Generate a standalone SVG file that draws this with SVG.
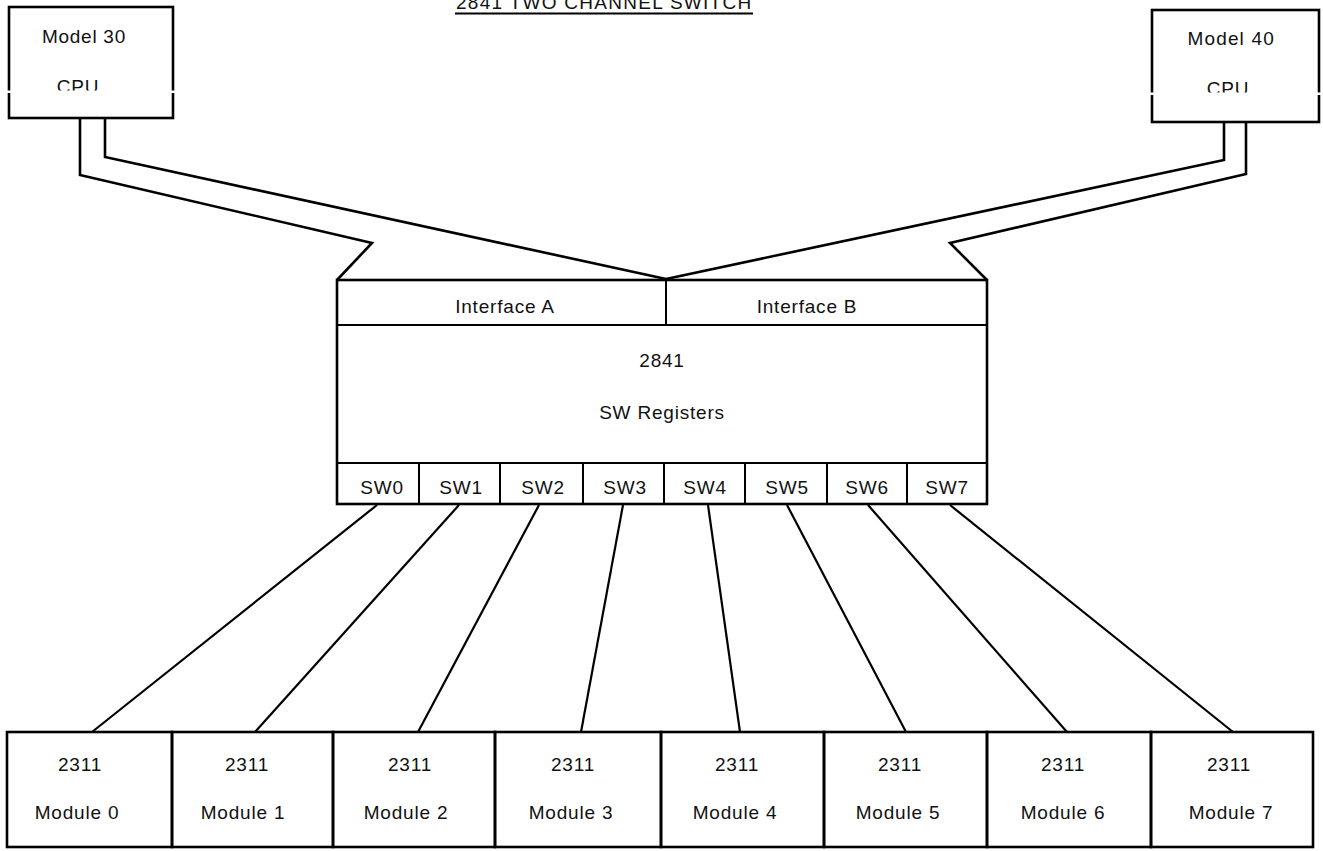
<svg xmlns="http://www.w3.org/2000/svg" width="1323" height="851" viewBox="0 0 1323 851">
<style>
.box{fill:none;stroke:#000;stroke-width:2.6;stroke-linejoin:miter}
.div{stroke:#000;stroke-width:2}
.wire{fill:none;stroke:#000;stroke-width:2.6;stroke-linejoin:miter}
.line{stroke:#000;stroke-width:2.2}
text{font-family:"Liberation Sans",Arial,sans-serif;font-size:19px;fill:#111;text-anchor:middle;letter-spacing:0.8px}
.title{font-size:19px}
</style>
<rect width="1323" height="851" fill="#fff"/>
<g id="title">
<text class="title" x="604" y="9" textLength="296" lengthAdjust="spacing">2841 TWO CHANNEL SWITCH</text>
<line x1="455" y1="13.5" x2="753" y2="13.5" stroke="#000" stroke-width="1.8"/>
</g>
<g id="connectors">
<polyline class="wire" points="80,118 80,175 372,243 337,280"/>
<polyline class="wire" points="105,118 105,157 666,279"/>
<polyline class="wire" points="1224,122 1224,160 666,279"/>
<polyline class="wire" points="1246,122 1246,174 950,243 987,280"/>
<line class="line" x1="377" y1="505" x2="92" y2="732"/>
<line class="line" x1="459" y1="505" x2="255" y2="732"/>
<line class="line" x1="539" y1="505" x2="418" y2="732"/>
<line class="line" x1="623" y1="505" x2="581" y2="732"/>
<line class="line" x1="708" y1="505" x2="740" y2="732"/>
<line class="line" x1="787" y1="505" x2="906" y2="732"/>
<line class="line" x1="868" y1="505" x2="1067" y2="732"/>
<line class="line" x1="950" y1="505" x2="1233" y2="732"/>
</g>
<g id="cpu30">
<rect class="box" x="9" y="7" width="164" height="111" fill="#fff"/>
<text x="84" y="43" textLength="84" lengthAdjust="spacing">Model 30</text>
<text x="78" y="93">CPU</text>
<rect x="0" y="90.5" width="180" height="2.5" fill="#fff"/>
</g>
<g id="cpu40">
<rect class="box" x="1152" y="10" width="167" height="112" fill="#fff"/>
<text x="1231" y="45" textLength="87" lengthAdjust="spacing">Model 40</text>
<text x="1228" y="95">CPU</text>
<rect x="1145" y="92.5" width="178" height="2.5" fill="#fff"/>
</g>
<g id="sw2841">
<rect class="box" x="337" y="280" width="650" height="224"/>
<line class="div" x1="337" y1="325" x2="987" y2="325"/>
<line class="div" x1="666" y1="280" x2="666" y2="325"/>
<line class="div" x1="337" y1="463" x2="987" y2="463"/>
<line class="div" x1="419" y1="463" x2="419" y2="504"/>
<line class="div" x1="500" y1="463" x2="500" y2="504"/>
<line class="div" x1="583" y1="463" x2="583" y2="504"/>
<line class="div" x1="664" y1="463" x2="664" y2="504"/>
<line class="div" x1="745" y1="463" x2="745" y2="504"/>
<line class="div" x1="827" y1="463" x2="827" y2="504"/>
<line class="div" x1="907" y1="463" x2="907" y2="504"/>
<text x="505" y="313">Interface A</text>
<text x="807" y="313">Interface B</text>
<text x="662" y="367">2841</text>
<text x="662" y="419">SW Registers</text>
<text x="382" y="494">SW0</text>
<text x="461" y="494">SW1</text>
<text x="543" y="494">SW2</text>
<text x="625" y="494">SW3</text>
<text x="705" y="494">SW4</text>
<text x="787" y="494">SW5</text>
<text x="867" y="494">SW6</text>
<text x="947" y="494">SW7</text>
</g>
<g id="module0">
<rect class="box" x="7" y="732" width="165" height="115"/>
<text x="80" y="771">2311</text>
<text x="77" y="819">Module 0</text>
</g>
<g id="module1">
<rect class="box" x="172" y="732" width="161" height="115"/>
<text x="247" y="771">2311</text>
<text x="243" y="819">Module 1</text>
</g>
<g id="module2">
<rect class="box" x="333" y="732" width="162" height="115"/>
<text x="410" y="771">2311</text>
<text x="406" y="819">Module 2</text>
</g>
<g id="module3">
<rect class="box" x="495" y="732" width="166" height="115"/>
<text x="573" y="771">2311</text>
<text x="571" y="819">Module 3</text>
</g>
<g id="module4">
<rect class="box" x="661" y="732" width="163" height="115"/>
<text x="737" y="771">2311</text>
<text x="735" y="819">Module 4</text>
</g>
<g id="module5">
<rect class="box" x="824" y="732" width="163" height="115"/>
<text x="900" y="771">2311</text>
<text x="898" y="819">Module 5</text>
</g>
<g id="module6">
<rect class="box" x="987" y="732" width="164" height="115"/>
<text x="1063" y="771">2311</text>
<text x="1063" y="819">Module 6</text>
</g>
<g id="module7">
<rect class="box" x="1151" y="732" width="162" height="115"/>
<text x="1229" y="771">2311</text>
<text x="1231" y="819">Module 7</text>
</g>
</svg>
